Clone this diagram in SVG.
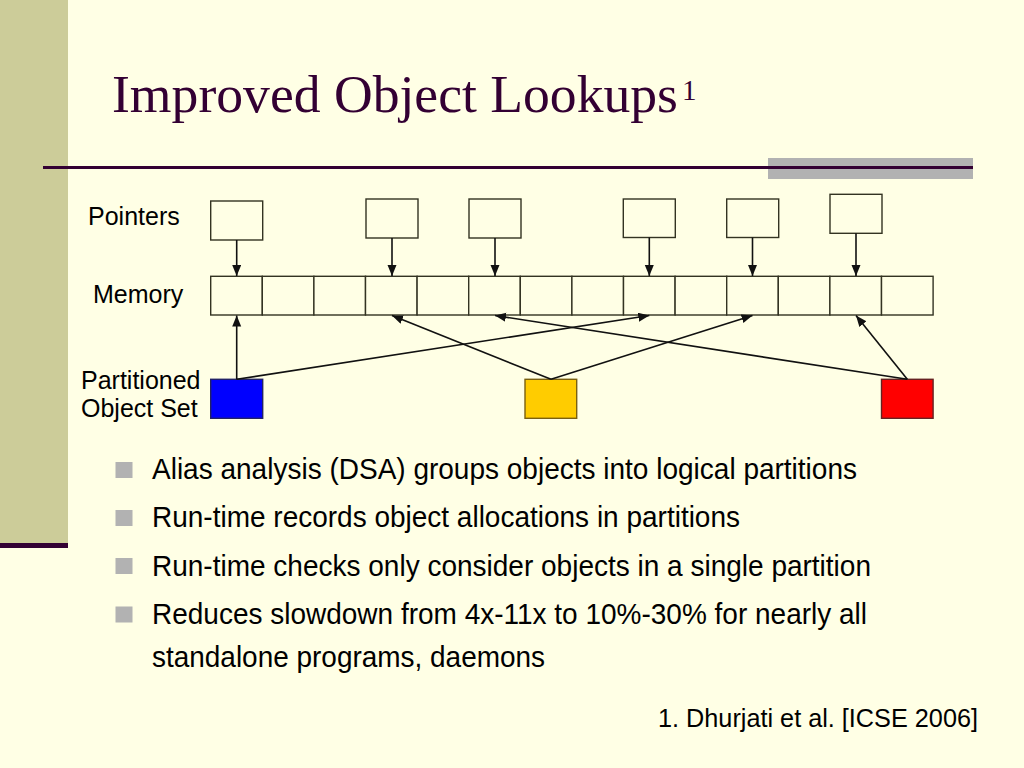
<svg xmlns="http://www.w3.org/2000/svg" width="1024" height="768" viewBox="0 0 1024 768">
<defs>
<style>
.bg{fill:#FFFFE5}
.box{fill:#FFFFE5;stroke:#333322;stroke-width:1.4}
.lbl{font-family:"Liberation Sans",Arial,sans-serif;font-size:25px;fill:#000}
.bul{font-family:"Liberation Sans",Arial,sans-serif;font-size:30px;fill:#000}
.sq{fill:#B2B2B2}
.con{stroke:#111;stroke-width:1.6;fill:none;marker-end:url(#ah)}
</style>
<marker id="ah" markerUnits="userSpaceOnUse" markerWidth="12" markerHeight="10" refX="11" refY="4.5" orient="auto">
<path d="M0,0 L11,4.5 L0,9 z" fill="#111"/>
</marker>
</defs>
<rect class="bg" x="0" y="0" width="1024" height="768"/>
<rect x="0" y="0" width="68" height="543" fill="#CCCC99"/>
<rect x="0" y="543" width="68" height="5" fill="#330033"/>
<rect x="768" y="158" width="205" height="21" fill="#B2B2B2"/>
<rect x="43" y="166" width="930" height="3" fill="#330033"/>
<g id="title">
<text x="112" y="112" font-family="'Liberation Serif','Times New Roman',serif" font-size="53" fill="#330033" textLength="566" lengthAdjust="spacingAndGlyphs">Improved Object Lookups</text>
<text x="682" y="100" font-family="'Liberation Serif','Times New Roman',serif" font-size="29" fill="#330033">1</text>
</g>
<g id="labels">
<text class="lbl" x="88" y="225">Pointers</text>
<text class="lbl" x="93" y="303">Memory</text>
<text class="lbl" x="81" y="389">Partitioned</text>
<text class="lbl" x="81" y="417">Object Set</text>
</g>
<g id="pointers">
<rect id="p1" class="box" x="210.7" y="201" width="52" height="39"/>
<rect id="p2" class="box" x="366" y="199" width="52" height="39"/>
<rect id="p3" class="box" x="469" y="199" width="52" height="39"/>
<rect id="p4" class="box" x="623.3" y="199" width="52" height="38.5"/>
<rect id="p5" class="box" x="726.7" y="199" width="52" height="38.5"/>
<rect id="p6" class="box" x="830" y="194.3" width="52" height="39"/>
</g>
<g id="memory">
<rect class="box" x="210.7" y="276.3" width="51.6" height="38.7"/>
<rect class="box" x="262.3" y="276.3" width="51.6" height="38.7"/>
<rect class="box" x="313.9" y="276.3" width="51.6" height="38.7"/>
<rect class="box" x="365.5" y="276.3" width="51.6" height="38.7"/>
<rect class="box" x="417.1" y="276.3" width="51.6" height="38.7"/>
<rect class="box" x="468.7" y="276.3" width="51.6" height="38.7"/>
<rect class="box" x="520.3" y="276.3" width="51.6" height="38.7"/>
<rect class="box" x="571.9" y="276.3" width="51.6" height="38.7"/>
<rect class="box" x="623.5" y="276.3" width="51.6" height="38.7"/>
<rect class="box" x="675.1" y="276.3" width="51.6" height="38.7"/>
<rect class="box" x="726.7" y="276.3" width="51.6" height="38.7"/>
<rect class="box" x="778.3" y="276.3" width="51.6" height="38.7"/>
<rect class="box" x="829.9" y="276.3" width="51.6" height="38.7"/>
<rect class="box" x="881.5" y="276.3" width="51.6" height="38.7"/>
</g>
<g id="sets">
<rect id="blue" x="210.7" y="379.3" width="52" height="39" fill="#0000FF" stroke="#222266" stroke-width="1.4"/>
<rect id="yellow" x="525" y="379.3" width="51.7" height="39" fill="#FFCC00" stroke="#7A6010" stroke-width="1.4"/>
<rect id="red" x="881.5" y="379.3" width="51.6" height="39" fill="#FF0000" stroke="#662222" stroke-width="1.4"/>
</g>
<g id="connectors">
<line class="con" x1="236.7" y1="240" x2="236.7" y2="276"/>
<line class="con" x1="392" y1="238" x2="392" y2="276"/>
<line class="con" x1="495" y1="238" x2="495" y2="276"/>
<line class="con" x1="649.3" y1="237.5" x2="649.3" y2="276"/>
<line class="con" x1="752.5" y1="237.5" x2="752.5" y2="276"/>
<line class="con" x1="856" y1="233.3" x2="856" y2="276"/>
<line class="con" x1="236.7" y1="379.3" x2="236.7" y2="315.5"/>
<line class="con" x1="236.7" y1="379.3" x2="649.3" y2="315.5"/>
<line class="con" x1="551" y1="379.3" x2="392" y2="315.5"/>
<line class="con" x1="551" y1="379.3" x2="752.5" y2="315.5"/>
<line class="con" x1="907.3" y1="379.3" x2="495" y2="315.5"/>
<line class="con" x1="907.3" y1="379.3" x2="856" y2="315.5"/>
</g>
<g id="bullets">
<rect class="sq" x="115.5" y="462" width="17" height="16"/>
<text class="bul" x="152" y="479" textLength="705" lengthAdjust="spacingAndGlyphs">Alias analysis (DSA) groups objects into logical partitions</text>
<rect class="sq" x="115.5" y="510" width="17" height="16"/>
<text class="bul" x="152" y="527" textLength="588" lengthAdjust="spacingAndGlyphs">Run-time records object allocations in partitions</text>
<rect class="sq" x="115.5" y="558" width="17" height="16"/>
<text class="bul" x="152" y="575.5" textLength="719" lengthAdjust="spacingAndGlyphs">Run-time checks only consider objects in a single partition</text>
<rect class="sq" x="115.5" y="606.5" width="17" height="16"/>
<text class="bul" x="152" y="624" textLength="715" lengthAdjust="spacingAndGlyphs">Reduces slowdown from 4x-11x to 10%-30% for nearly all</text>
<text class="bul" x="152" y="667" textLength="393" lengthAdjust="spacingAndGlyphs">standalone programs, daemons</text>
</g>
<text id="footnote" class="lbl" x="658" y="727" textLength="320" lengthAdjust="spacingAndGlyphs">1. Dhurjati et al. [ICSE 2006]</text>
</svg>
